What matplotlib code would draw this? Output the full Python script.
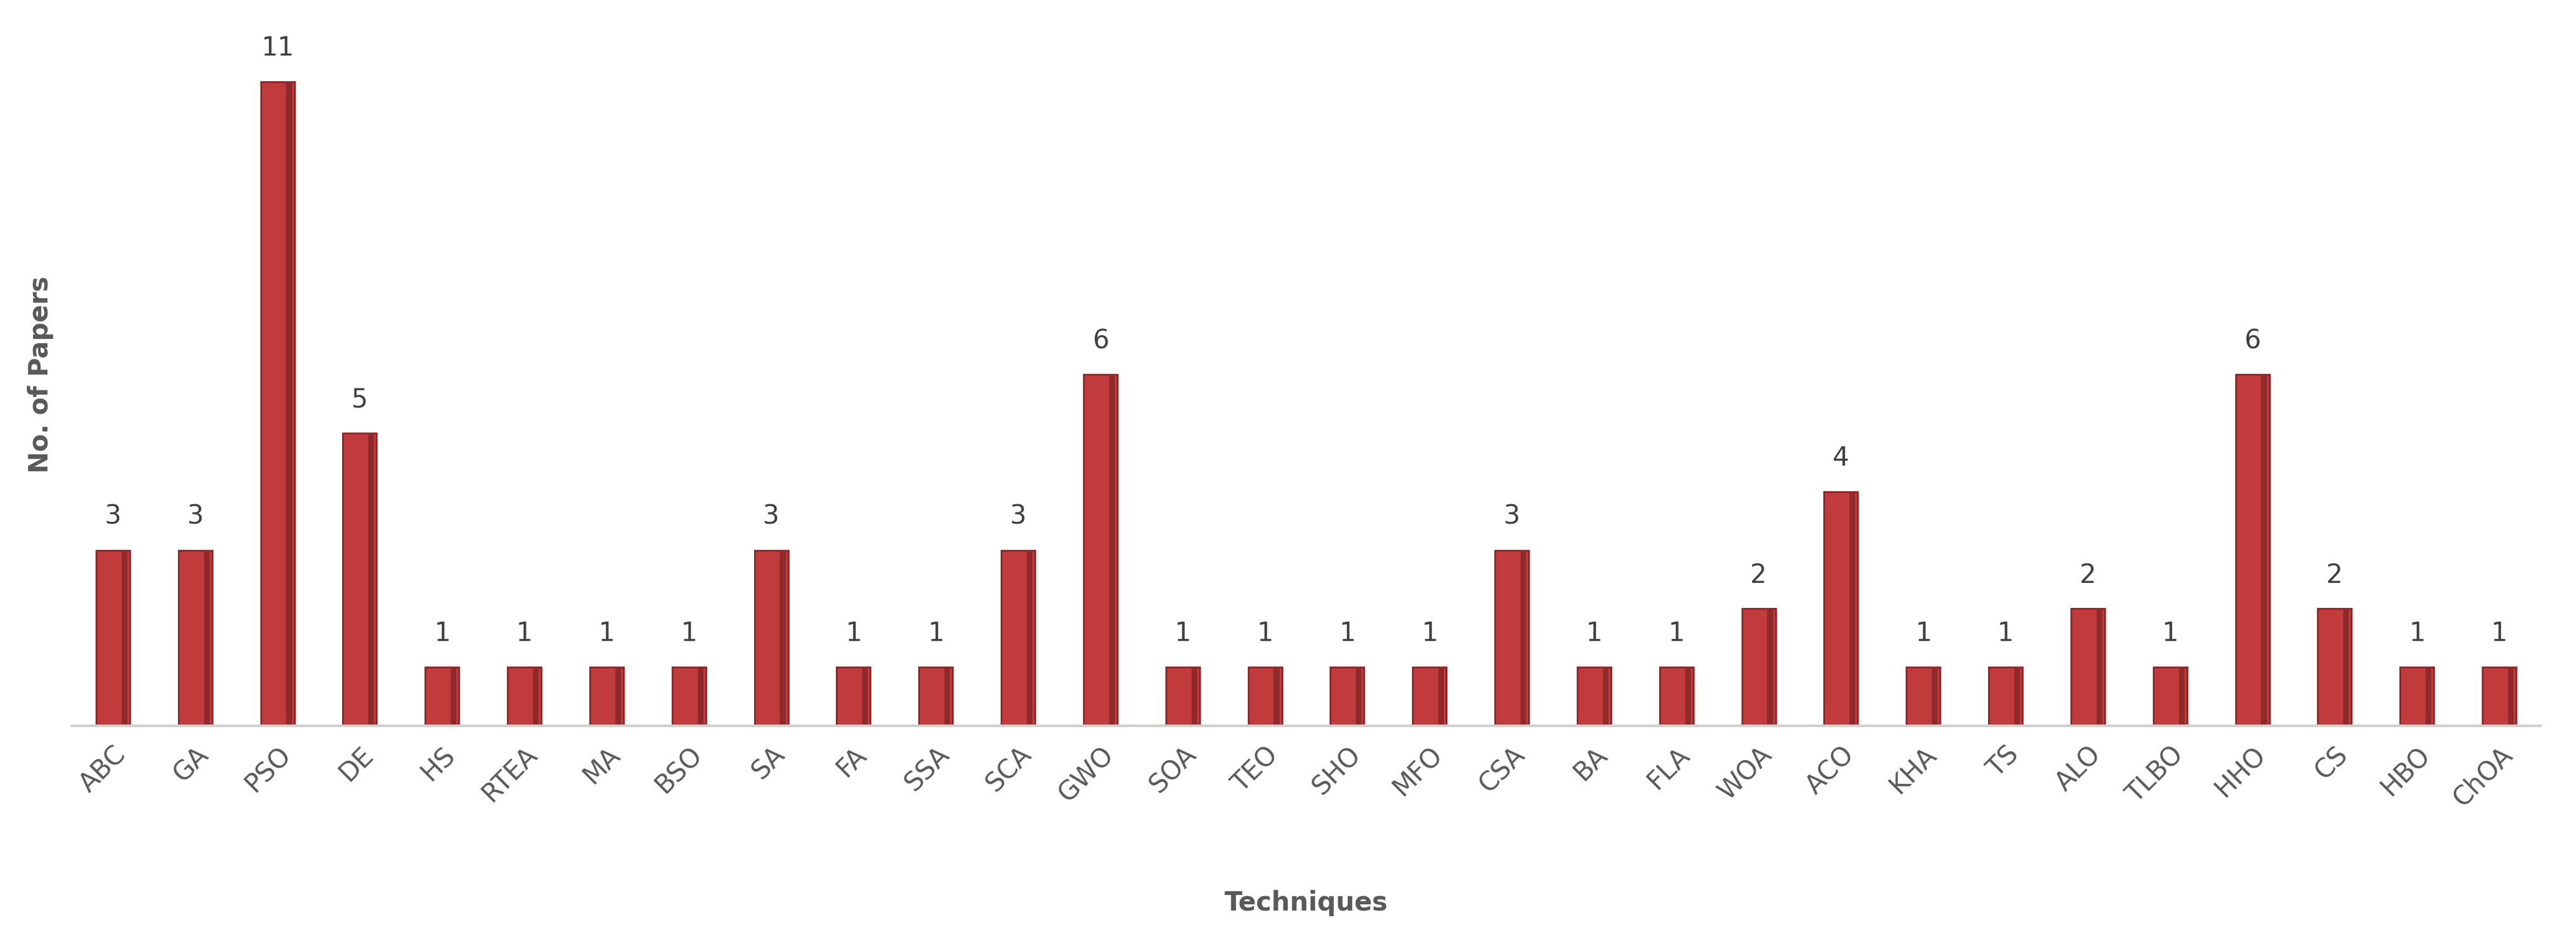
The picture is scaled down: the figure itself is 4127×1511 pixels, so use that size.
import matplotlib.pyplot as plt
import numpy as np

techniques = ["ABC", "GA", "PSO", "DE", "HS", "RTEA", "MA", "BSO", "SA", "FA",
              "SSA", "SCA", "GWO", "SOA", "TEO", "SHO", "MFO", "CSA", "BA", "FLA",
              "WOA", "ACO", "KHA", "TS", "ALO", "TLBO", "HHO", "CS", "HBO", "ChOA"]
papers = [3, 3, 11, 5, 1, 1, 1, 1, 3, 1,
          1, 3, 6, 1, 1, 1, 1, 3, 1, 1,
          2, 4, 1, 1, 2, 1, 6, 2, 1, 1]

fig = plt.figure(figsize=(41.27, 15.11), dpi=100)
ax = fig.add_axes([115 / 4127, 1 - 1163 / 1511, (4070 - 115) / 4127, 1163 / 1511])

x = np.arange(len(techniques))
bars = ax.bar(x, papers, width=0.41, color="#c23b3c", edgecolor="#8a2426", linewidth=2)
# darker right strip to hint at the cylinder shading
ax.bar(x + 0.14, papers, width=0.07, color="#8e2a2b", linewidth=0)

for xi, v in zip(x, papers):
    ax.text(xi, v + 0.35, str(v), ha="center", va="bottom", fontsize=30, color="#404040")

ax.set_xlim(-0.5, len(techniques) - 0.5)
ax.set_ylim(0, 12.4)
ax.set_yticks([])
ax.set_xticks(x)
ax.set_xticklabels(techniques, rotation=45, ha="right", rotation_mode="anchor",
                   fontsize=30, color="#595959")
ax.tick_params(axis="x", length=0, pad=18)
for s in ["top", "right", "left"]:
    ax.spines[s].set_visible(False)
ax.spines["bottom"].set_color("#d0d0d0")
ax.spines["bottom"].set_linewidth(3)

fig.text(65 / 4127, 1 - 600 / 1511, "No. of Papers", rotation=90, ha="center", va="center",
         fontsize=30, fontweight="bold", color="#595959")
fig.text(0.5 * (115 + 4070) / 4127, 1 - 1447 / 1511, "Techniques", ha="center", va="center",
         fontsize=30, fontweight="bold", color="#595959")

fig.savefig("out.png", dpi=100)
